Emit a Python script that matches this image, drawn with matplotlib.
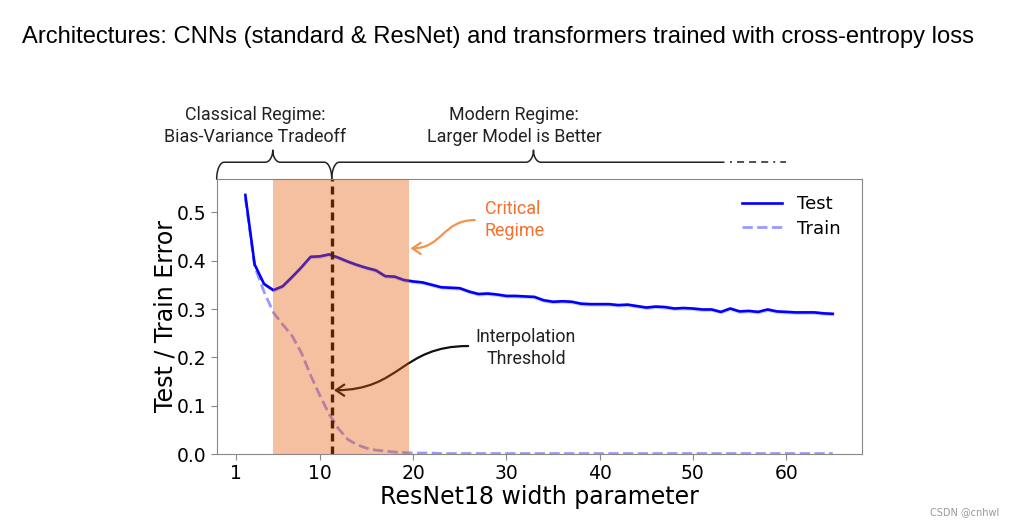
import numpy as np
import matplotlib
matplotlib.use("Agg")
import matplotlib.pyplot as plt
from matplotlib.path import Path
from matplotlib.patches import FancyArrowPatch
import matplotlib.transforms as mtransforms

# widths of ResNet18 and errors
width = list(range(2, 66))
test_err = [0.536, 0.392, 0.352, 0.339, 0.347, 0.366, 0.386, 0.408, 0.409, 0.413,
            0.406, 0.398, 0.391, 0.385, 0.380, 0.368, 0.367, 0.360, 0.357, 0.355,
            0.350, 0.345, 0.344, 0.343, 0.336, 0.331, 0.332, 0.330, 0.327, 0.327,
            0.326, 0.325, 0.318, 0.315, 0.316, 0.315, 0.311, 0.310, 0.310, 0.310,
            0.308, 0.309, 0.306, 0.303, 0.305, 0.304, 0.301, 0.302, 0.301, 0.299,
            0.299, 0.294, 0.301, 0.295, 0.296, 0.294, 0.299, 0.295, 0.294, 0.293,
            0.293, 0.293, 0.291, 0.290]
train_err = [0.530, 0.388, 0.336, 0.293, 0.268, 0.245, 0.210, 0.163, 0.121, 0.082,
             0.052, 0.030, 0.019, 0.012, 0.008, 0.006, 0.004, 0.003, 0.002, 0.002,
             0.002, 0.001, 0.001, 0.001, 0.001, 0.001, 0.001, 0.001, 0.001, 0.001,
             0.001, 0.001, 0.001, 0.001, 0.001, 0.001, 0.001, 0.001, 0.001, 0.001,
             0.001, 0.001, 0.001, 0.001, 0.001, 0.001, 0.001, 0.001, 0.001, 0.001,
             0.001, 0.001, 0.001, 0.001, 0.001, 0.001, 0.001, 0.001, 0.001, 0.001,
             0.001, 0.001, 0.001, 0.001]
xticks = [1, 10, 20, 30, 40, 50, 60]
yticks = [0.0, 0.1, 0.2, 0.3, 0.4, 0.5]
critical_lo, critical_hi = 5.0, 19.6
threshold = 11.27

W, H = 1011, 529
fig = plt.figure(figsize=(W / 100, H / 100), dpi=100)
ax = fig.add_axes([216.7 / W, 1 - 454 / H, (861.7 - 216.7) / W, (454 - 179) / H])

test = np.array(test_err)
ax.fill_between(width, test - 0.004, test + 0.004, color="blue", alpha=0.2, lw=0)
ax.plot(width, test_err, color="blue", lw=1.9, label="Test")
ax.plot(width, train_err, color="blue", alpha=0.4, lw=2, ls="--", label="Train")
ax.axvline(threshold, color="black", lw=2.4, ls=(0, (2.4, 1.5)))

ax.set_xlim(-1.07, 68.1)
ax.set_ylim(0, 0.569)
ax.set_xticks(xticks)
ax.set_yticks(yticks)
ax.set_xticklabels([str(t) for t in xticks])
ax.set_yticklabels(["%.1f" % t for t in yticks])
ax.tick_params(labelsize=13.5, color="#888888", length=4)
for s in ax.spines.values():
    s.set_color("#888888")
ax.set_xlabel("ResNet18 width parameter", fontsize=17, labelpad=1)
ax.set_ylabel("Test / Train Error", fontsize=17, labelpad=-1)
ax.legend(loc="upper right", fontsize=13, frameon=False, handlelength=2.2,
          bbox_to_anchor=(0.992, 1.0), labelspacing=0.35)

# braces above the axes (x in data, y in axes fraction)
bt = mtransforms.blended_transform_factory(ax.transData, ax.transAxes)
yb, yh, yt = 1.0, 1.061, 1.105
r = 0.8
t = np.linspace(0, np.pi / 2, 20)


def brace(xs, xm, xe, close_end=True):
    px, py = [], []
    px += list(xs + r - r * np.cos(t)); py += list(yb + (yh - yb) * np.sin(t))
    px += list(xm - r + r * np.sin(t)); py += list(yt - (yt - yh) * np.cos(t))
    px += list(xm + r * (1 - np.cos(t))); py += list(yt - (yt - yh) * np.sin(t))
    if close_end:
        px += list(xe - r + r * np.sin(t)); py += list(yh - (yh - yb) * (1 - np.cos(t)))
    else:
        px.append(xe); py.append(yh)
    ax.plot(px, py, color="#222222", lw=1.1, transform=bt, clip_on=False)


brace(-1.07, 4.94, threshold)
brace(threshold, 32.9, 53.3, close_end=False)
ax.plot([54.0, 60.0], [yh, yh], color="#222222", lw=1.1,
        ls=(0, (1.3, 3.3, 4.6, 3.3, 4.6, 3.3, 4.6, 3.3)),
        transform=bt, clip_on=False)

fig.text(255 / W, 1 - 126 / H, "Classical Regime:\nBias-Variance Tradeoff", ha="center",
         va="center", fontsize=12.9, family="Roboto", color="#222222", linespacing=1.3)
fig.text(514 / W, 1 - 126 / H, "Modern Regime:\nLarger Model is Better", ha="center",
         va="center", fontsize=12.9, family="Roboto", color="#222222", linespacing=1.3)
ax.text(27.7, 0.484, "Critical\nRegime", ha="left", va="center", fontsize=12.9,
        family="Roboto", color="#f4702c", linespacing=1.3)
ax.text(32.1, 0.219, "Interpolation\nThreshold", ha="center", va="center", fontsize=12.9,
        family="Roboto", color="#222222", linespacing=1.3)


def curved_arrow(p0, p3, color):
    xm = (p0[0] + p3[0]) / 2
    verts = [p0, (xm, p0[1]), (xm, p3[1]), p3]
    path = Path(verts, [Path.MOVETO, Path.CURVE4, Path.CURVE4, Path.CURVE4])
    arr = FancyArrowPatch(path=path, arrowstyle="->,head_length=6,head_width=4",
                          color=color, lw=1.6)
    ax.add_patch(arr)


curved_arrow((26.6, 0.484), (19.7, 0.4255), "#f7914f")
curved_arrow((25.9, 0.2234), (11.5, 0.132), "#111111")

# critical regime shading, drawn on top
ax.axvspan(critical_lo, critical_hi, color="#e55a05", alpha=0.38, lw=0, zorder=10)

fig.text(22 / W, 1 - 37 / H,
         "Architectures: CNNs (standard & ResNet) and transformers trained with cross-entropy loss",
         ha="left", va="center", fontsize=17.1, family="Liberation Sans", color="black")

fig.text(930 / W, 1 - 515 / H, "CSDN @cnhwl", fontsize=7, color="#999999", family="DejaVu Sans")

fig.savefig("out.png", dpi=100)
